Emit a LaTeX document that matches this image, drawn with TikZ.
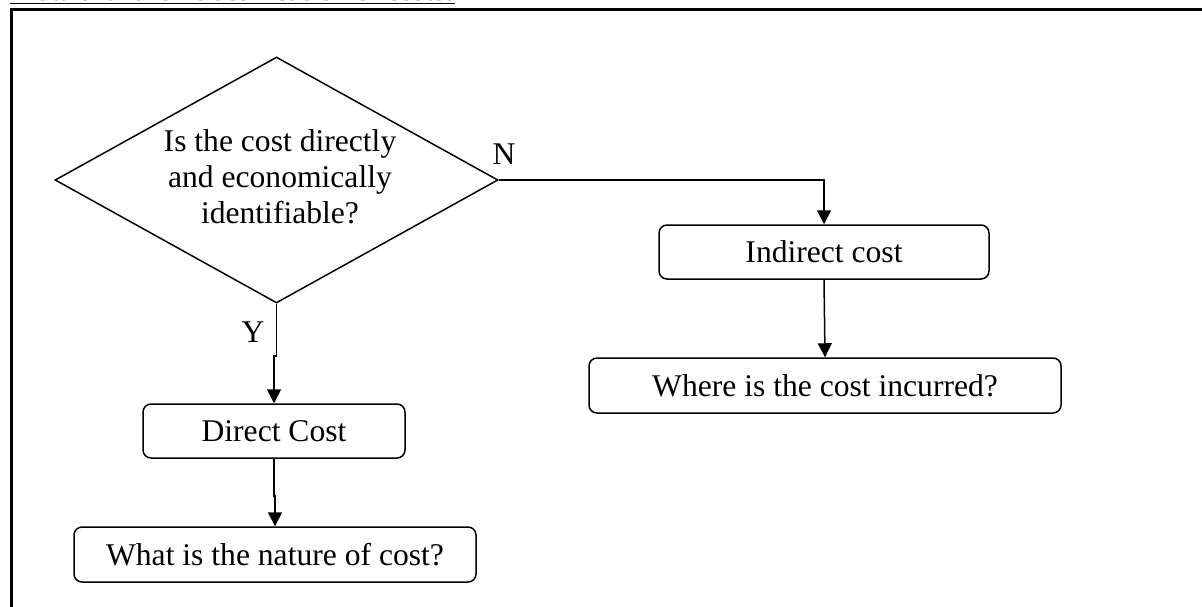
\documentclass[tikz,border=0pt]{standalone}
\usepackage{fontspec}
\setmainfont{Liberation Serif}
\usetikzlibrary{shapes.geometric,arrows.meta,calc}

\tikzset{
  box/.style={draw, line width=0.75pt, rounded corners=4pt, inner sep=0pt},
  lbl/.style={font=\fontsize{15.8}{18}\selectfont},
  arr/.style={line width=0.75pt, -{Triangle[length=7pt,width=7pt]}},
}

\begin{document}
\begin{tikzpicture}[x=0.5pt, y=-0.5pt]
  \useasboundingbox (0,0) rectangle (1202,606);

  % heading, mostly above the page edge
  \node[anchor=base west, inner sep=0pt, font=\fontsize{14.2}{17}\selectfont\bfseries]
    (title) at (10,0.3) {Flow chart for classification of costs:};
  \draw[line width=0.5pt] ($(title.base west)+(0,3.6)$) -- ($(title.base east)+(0,3.6)$);

  % outer frame
  \draw[line width=1.3pt] (11.5,620) -- (11.5,9.3) -- (1215,9.3);

  % decision
  \node[diamond, draw, line width=0.75pt, inner sep=0pt,
        minimum width=221.5pt, minimum height=123pt] (dec) at (276.5,180) {};
  \node[lbl, align=center, inner sep=0pt] (q) at (280,177)
    {Is the cost directly\\and economically\\identifiable?};

  % outcome boxes
  \node[box, lbl, minimum width=165pt, minimum height=27pt] (ind) at (824,252) {Indirect cost};
  \node[box, lbl, minimum width=236pt, minimum height=27.5pt] (where) at (825,385.5) {Where is the cost incurred?};
  \node[box, lbl, minimum width=131pt, minimum height=27pt] (dir) at (274,431) {Direct Cost};
  \node[box, lbl, minimum width=201pt, minimum height=27.5pt] (nat) at (275,554.5) {What is the nature of cost?};

  % branch labels
  \node[lbl, inner sep=0pt] (n) at (504,154) {N};
  \node[lbl, inner sep=0pt] (y) at (253,332) {Y};

  % connectors
  \draw[arr] (dec.east) -| (ind.north);
  \draw[arr] (ind.south) -- (where.north);
  \draw[arr] (dec.south) -- ++(0,52) -| (dir.north);
  \draw[arr] (dir.south) -- ++(0,37) -| (nat.north);
\end{tikzpicture}
\end{document}
